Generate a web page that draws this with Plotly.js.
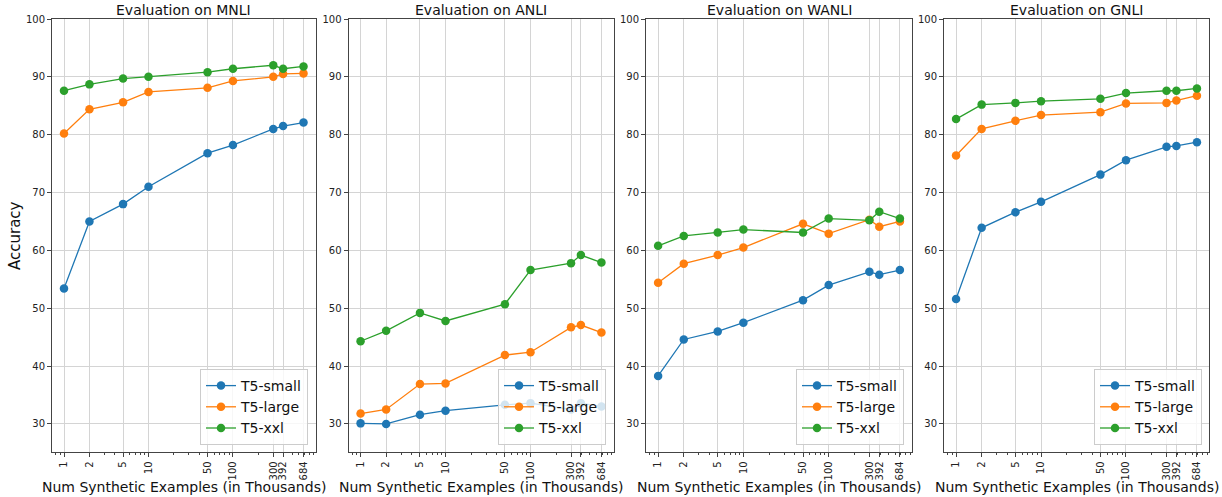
<!DOCTYPE html>
<html>
<head>
<meta charset="utf-8">
<script src="https://cdn.plot.ly/plotly-3.0.1.min.js"></script>
<style>html,body{margin:0;padding:0;background:#fff;}#chart{width:1222px;height:497px;}</style>
</head>
<body>
<div id="chart"></div>
<script>
// ---- data ----
const xValues = [1, 2, 5, 10, 50, 100, 300, 392, 684];
const tickLabels = ['1', '2', '5', '10', '50', '100', '300', '392', '684'];
const minorTickValues = [0.8, 0.9, 3, 4, 6, 7, 8, 9, 20, 30, 40, 60, 70, 80, 90, 200, 400, 500, 600, 700, 800, 900];
const datasets = ['MNLI', 'ANLI', 'WANLI', 'GNLI'];
const models = ['T5-small', 'T5-large', 'T5-xxl'];

const mnliSmall = [53.4, 65.0, 68.0, 71.0, 76.8, 78.2, 81.0, 81.5, 82.1];
const mnliLarge = [80.2, 84.4, 85.6, 87.4, 88.1, 89.3, 90.0, 90.5, 90.6];
const mnliXxl   = [87.6, 88.7, 89.7, 90.0, 90.8, 91.4, 92.0, 91.4, 91.8];

const anliSmall = [30.1, 30.0, 31.6, 32.3, 33.3, 33.6, 32.5, 33.6, 33.0];
const anliLarge = [31.8, 32.5, 36.9, 37.0, 41.9, 42.4, 46.7, 47.1, 45.8];
const anliXxl   = [44.3, 46.1, 49.2, 47.8, 50.7, 56.6, 57.8, 59.2, 57.9];

const wanliSmall = [38.3, 44.6, 46.0, 47.5, 51.4, 54.0, 56.3, 55.8, 56.6];
const wanliLarge = [54.4, 57.7, 59.2, 60.5, 64.6, 62.9, 65.3, 64.1, 65.0];
const wanliXxl   = [60.8, 62.5, 63.1, 63.6, 63.1, 65.5, 65.2, 66.7, 65.5];

const gnliSmall = [51.6, 63.9, 66.6, 68.4, 73.1, 75.6, 77.9, 78.05, 78.7];
const gnliLarge = [76.4, 81.0, 82.4, 83.4, 83.9, 85.4, 85.5, 85.9, 86.75];
const gnliXxl   = [82.7, 85.2, 85.5, 85.8, 86.2, 87.2, 87.6, 87.6, 88.0];

const seriesByDataset = [
  [mnliSmall, mnliLarge, mnliXxl],
  [anliSmall, anliLarge, anliXxl],
  [wanliSmall, wanliLarge, wanliXxl],
  [gnliSmall, gnliLarge, gnliXxl]
];

// ---- style ----
const colors = ['#1f77b4', '#ff7f0e', '#2ca02c'];
const FONT = 'DejaVu Sans, sans-serif';
const W = 1222, H = 497;
const panelPx = [[52, 315.5], [348.5, 613.5], [646, 912], [944, 1209]];
const yTopPx = 19, yBotPx = 452.3;
const legendRightPx = [308, 606, 904, 1202];
const legendBottomPx = 445;

const traces = [];
const layout = {
  width: W, height: H,
  margin: {l: 0, r: 0, t: 0, b: 0},
  paper_bgcolor: '#ffffff',
  plot_bgcolor: '#ffffff',
  font: {family: FONT, color: '#222', size: 10},
  showlegend: true,
  annotations: []
};

datasets.forEach((ds, i) => {
  const n = i === 0 ? '' : String(i + 1);
  const xa = 'x' + n, ya = 'y' + n;
  const legendId = 'legend' + n;
  seriesByDataset[i].forEach((vals, j) => {
    traces.push({
      type: 'scatter', mode: 'lines+markers',
      x: xValues, y: vals,
      xaxis: xa, yaxis: ya,
      name: models[j],
      legend: legendId,
      line: {color: colors[j], width: 1.3},
      marker: {color: colors[j], size: 8.5}
    });
  });
  const dom = [panelPx[i][0] / W, panelPx[i][1] / W];
  layout['xaxis' + n] = {
    domain: dom, anchor: ya, type: 'log',
    range: [-0.142, 2.977],
    tickmode: 'array', tickvals: xValues, ticktext: tickLabels,
    tickangle: -90,
    tickfont: {family: FONT, size: 10, color: '#222'},
    ticks: 'outside', ticklen: 4, tickcolor: '#444', tickwidth: 1,
    showgrid: true, gridcolor: '#d4d4d4', gridwidth: 1,
    showline: true, linecolor: '#444', linewidth: 1, mirror: true,
    zeroline: false,
    minor: {tickmode: 'array', tickvals: minorTickValues, ticks: 'outside', ticklen: 2, tickcolor: '#444', showgrid: false}
  };
  layout['yaxis' + n] = {
    domain: [1 - yBotPx / H, 1 - yTopPx / H], anchor: xa,
    range: [25.1, 100],
    tickmode: 'linear', tick0: 30, dtick: 10,
    tickfont: {family: FONT, size: 10, color: '#222'},
    ticks: 'outside', ticklen: 4, tickcolor: '#444', tickwidth: 1,
    showgrid: true, gridcolor: '#d4d4d4', gridwidth: 1,
    showline: true, linecolor: '#444', linewidth: 1, mirror: true,
    zeroline: false
  };
  layout[legendId] = {
    x: legendRightPx[i] / W, y: 1 - legendBottomPx / H,
    xanchor: 'right', yanchor: 'bottom',
    bgcolor: 'rgba(255,255,255,0.8)', bordercolor: '#cccccc', borderwidth: 1,
    font: {family: FONT, size: 14, color: '#111'},
    itemwidth: 30
  };
  const cx = (panelPx[i][0] + panelPx[i][1]) / 2 / W;
  layout.annotations.push({
    text: 'Evaluation on ' + ds, xref: 'paper', yref: 'paper',
    x: cx, y: 1 - 10 / H, xanchor: 'center', yanchor: 'middle',
    showarrow: false, font: {family: FONT, size: 14, color: '#111'}
  });
  layout.annotations.push({
    text: 'Num Synthetic Examples (in Thousands)', xref: 'paper', yref: 'paper',
    x: cx, y: 1 - 487 / H, xanchor: 'center', yanchor: 'middle',
    showarrow: false, font: {family: FONT, size: 14, color: '#111'}
  });
});

layout.annotations.push({
  text: 'Accuracy', xref: 'paper', yref: 'paper',
  x: 15 / W, y: 1 - 236 / H, xanchor: 'center', yanchor: 'middle',
  textangle: -90, showarrow: false, font: {family: FONT, size: 15, color: '#111'}
});

Plotly.newPlot('chart', traces, layout, {displayModeBar: false, staticPlot: true});
</script>
</body>
</html>
